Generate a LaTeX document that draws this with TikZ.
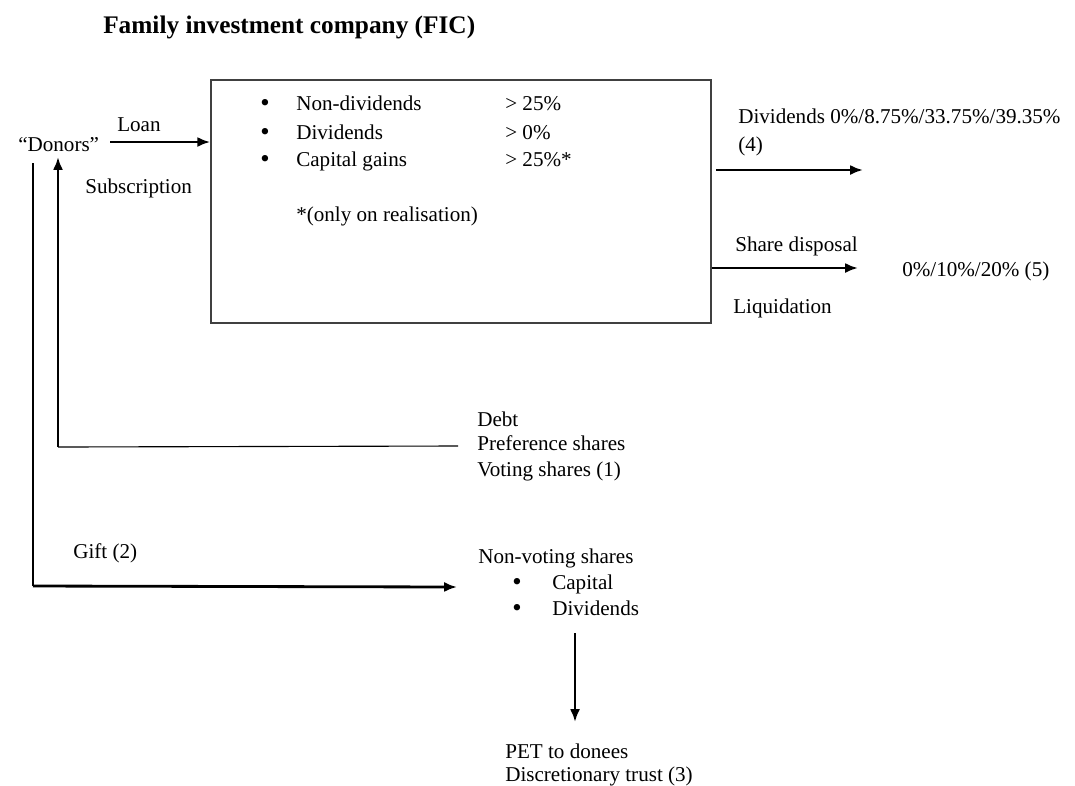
\documentclass[tikz,border=0pt]{standalone}
\usepackage{fontspec}
\setmainfont{Liberation Serif}
\usepackage{tikz}
\usetikzlibrary{positioning,arrows.meta}

\begin{document}
\begin{tikzpicture}[x=0.025cm,y=-0.025cm,
  txt/.style={anchor=base west,font=\fontsize{15}{18}\selectfont},
  dot/.style={anchor=base west,font=\fontsize{19}{18}\selectfont},
  arr/.style={-{Latex[length=3.2mm,width=2.5mm]},line width=2pt},
  thinline/.style={line width=0.8pt}]
\tikzstyle{every node}+=[inner sep=0pt]
\useasboundingbox (0,0) rectangle (1075,785);
\node [txt,font=\fontsize{18}{20}\selectfont\bfseries] (title) at (103,33) {Family investment company (FIC)};
\node [txt] (donors) at (18,151) {``Donors''};
\node [txt] (loan) at (117,131) {Loan};
\node [txt] (subscr) at (85,193) {Subscription};
\node [draw=black!75,line width=1pt,minimum width=12.5cm,minimum height=6.075cm] (fic) at (461,201.5) {};
\node [dot] (b1) at (260,111) {\textbullet};
\node [dot] (b2) at (260,140) {\textbullet};
\node [dot] (b3) at (260,167) {\textbullet};
\node [txt] (nondiv) at (296,110) {Non-dividends};
\node [txt] (div) at (296,139) {Dividends};
\node [txt] (cgains) at (296,166) {Capital gains};
\node [txt] (nondivrate) at (505,110) {> 25\%};
\node [txt] (divrate) at (505,139) {> 0\%};
\node [txt] (cgrate) at (505,166) {> 25\%*};
\node [txt] (note) at (296,221) {*(only on realisation)};
\node [txt] (divout) at (738,123) {Dividends 0\%/8.75\%/33.75\%/39.35\%};
\node [txt] (divnum) at (738,151) {(4)};
\node [txt] (disposal) at (735,251) {Share disposal};
\node [txt] (liquid) at (733,313) {Liquidation};
\node [txt] (cgt) at (902,276) {0\%/10\%/20\% (5)};
\node [txt] (debt) at (477,426) {Debt};
\node [txt] (pref) at (477,450) {Preference shares};
\node [txt] (voting) at (477,476) {Voting shares (1)};
\node [txt] (gift) at (73,558) {Gift (2)};
\node [txt] (nonvoting) at (478,563) {Non-voting shares};
\node [dot] (b4) at (512,590) {\textbullet};
\node [dot] (b5) at (512,616) {\textbullet};
\node [txt] (capital) at (552,589) {Capital};
\node [txt] (nvdiv) at (552,615) {Dividends};
\node [txt] (pet) at (505,758) {PET to donees};
\node [txt] (trust) at (505,781) {Discretionary trust (3)};
\coordinate (loanS) at (110,142);
\coordinate (divS) at (716,170);
\coordinate (divE) at (863,170);
\coordinate (shareE) at (858,268);
\coordinate (subS) at (458,446);
\coordinate (subC) at (58,447);
\coordinate (subE) at (58,157);
\coordinate (giftS) at (33,163);
\coordinate (giftC) at (33,586);
\coordinate (giftE) at (457,587);
\coordinate (petS) at (575,633);
\coordinate (petE) at (575,722);
\draw [arr] (loanS) -- (loanS -| fic.west);
\draw [arr] (divS) -- (divE);
\draw [arr] (shareE -| fic.east) -- (shareE);
\draw [thinline] (subS) -- (subC);
\draw [arr] (subC) -- (subE);
\draw [thinline] (giftS) -- (giftC);
\draw [arr] (giftC) -- (giftE);
\draw [arr] (petS) -- (petE);
\end{tikzpicture}
\end{document}
